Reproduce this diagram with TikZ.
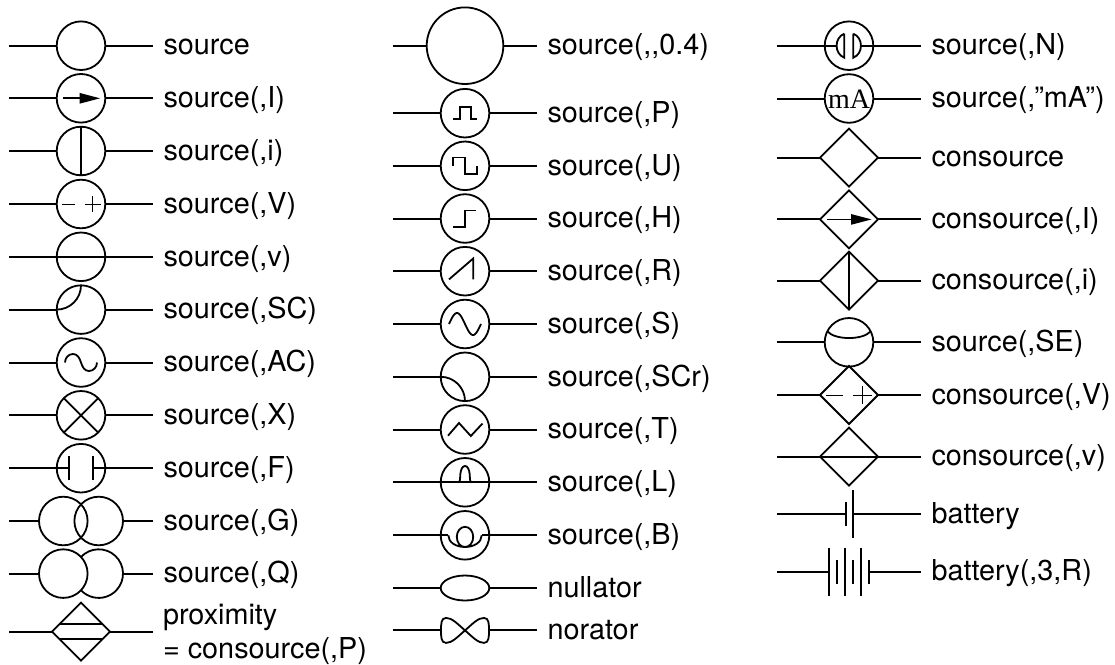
\documentclass[tikz,border=0pt]{standalone}
\usepackage{fontspec}
\setmainfont{TeX Gyre Heros}
\newfontfamily\meterfont{Liberation Serif}
\usetikzlibrary{calc,shapes.geometric}
\tikzset{
  wire/.style={line width=2pt,line join=miter},
  srcc/.style={circle,draw,line width=1.8pt,minimum size=48.6pt,inner sep=0pt,outer sep=0pt},
  bigc/.style={srcc,minimum size=76.6pt},
  dsrc/.style={diamond,draw,line width=1.8pt,minimum size=58pt,inner sep=0pt,outer sep=0pt,aspect=1},
  nullc/.style={ellipse,draw,line width=1.8pt,minimum width=48.6pt,minimum height=25pt,inner sep=0pt,outer sep=0pt},
  lbl/.style={anchor=base west,inner sep=0pt,outer sep=0pt,font=\fontsize{28.8}{30}\selectfont},
  thin mark/.style={line width=0.9pt},
  head/.style={fill=black,draw=none},
}
% name, centre x, y, label
\newcommand{\symrow}[4]{%
  \coordinate (#1l) at ($(#2,#3)+(-72,0)$);
  \coordinate (#1r) at ($(#2,#3)+(72,0)$);
  \node[lbl] (#1t) at ($(#2,#3)+(82.5,9.2)$) {#4};
}
\newcommand{\wires}[1]{\draw[wire] (#1l) -- (#1.west) (#1.east) -- (#1r);}
\newcommand{\csrc}[4]{\symrow{#1}{#2}{#3}{#4}\node[srcc] (#1) at (#2,#3) {};\wires{#1}}
\newcommand{\dmd}[4]{\symrow{#1}{#2}{#3}{#4}\node[dsrc] (#1) at (#2,#3) {};\wires{#1}}
\newcommand{\inside}[2]{\begin{scope}[shift={(#1)}]\draw[wire,line width=1.8pt] #2;\end{scope}}
\newcommand{\insidefill}[2]{\begin{scope}[shift={(#1)}]\fill[head] #2;\end{scope}}
\newcommand{\insidethin}[2]{\begin{scope}[shift={(#1)}]\draw[thin mark] #2;\end{scope}}
\begin{document}
\begin{tikzpicture}[x=1pt,y=-1pt]
\useasboundingbox (0,0) rectangle (1115,664);
\def\xa{81}\def\xb{465}\def\xc{849}
% ---------- column 1
\csrc{a1}{\xa}{45.7}{source}
\csrc{a2}{\xa}{98.3}{source(,I)}
\inside{a2}{(-18,0) -- (0,0)}
\insidefill{a2}{(-1.5,-5.4) -- (19,0) -- (-1.5,5.4) -- cycle}
\csrc{a3}{\xa}{151}{source(,i)}
\inside{a3}{(a3.north) -- (a3.south)}
\csrc{a4}{\xa}{204}{source(,V)}
\insidethin{a4}{(-19,0) -- (-6,0) (3.5,0) -- (19.5,0) (11.5,-8) -- (11.5,8)}
\csrc{a5}{\xa}{256.8}{source(,v)}
\inside{a5}{(a5.west) -- (a5.east)}
\csrc{a6}{\xa}{309.6}{source(,SC)}
\inside{a6}{(0,-24.3) .. controls (0,-10.9) and (-10.9,0) .. (-24.3,0)}
\csrc{a7}{\xa}{362.5}{source(,AC)}
\inside{a7}{(-16,0) .. controls (-16,-4.7) and (-12.4,-8.5) .. (-8,-8.5) .. controls (-3.6,-8.5) and (-1.5,-4.7) .. (0,0) .. controls (1.5,4.7) and (3.6,8.5) .. (8,8.5) .. controls (12.4,8.5) and (16,4.7) .. (16,0)}
\csrc{a8}{\xa}{415.3}{source(,X)}
\inside{a8}{(a8.north west) -- (a8.south east) (a8.north east) -- (a8.south west)}
% F: the wires run through the circle to the plates
\symrow{a9}{\xa}{468.2}{source(,F)}
\node[srcc] (a9) at (\xa,468.2) {};
\draw[wire] (a9l) -- +(60,0) (a9r) -- +(-60,0);
\inside{a9}{(-12,-12) -- (-12,12) (12,-12) -- (12,12)}
% G
\symrow{a10}{\xa}{521}{source(,G)}
\node[srcc] (a10a) at (63.3,521) {};
\node[srcc] (a10b) at (98.7,521) {};
\draw[wire] (a10l) -- (a10a.west) (a10b.east) -- (a10r);
% Q
\symrow{a11}{\xa}{573.6}{source(,Q)}
\node[srcc] (a11a) at (63.3,573.6) {};
\coordinate (a11b) at (98.7,573.6);
\coordinate (a11be) at (123,573.6);
\inside{a11b}{(-136.9:24.3) arc[start angle=-136.9,end angle=136.9,radius=24.3]}
\draw[wire] (a11l) -- (a11a.west) (a11be) -- (a11r);
% proximity
\dmd{a12}{\xa}{631.7}{}
\inside{a12}{(-20.8,-7.6) -- (20.8,-7.6) (-20.8,7.6) -- (20.8,7.6)}
\node[lbl] (a12p) at (163,624.5) {proximity};
\node[lbl] (a12q) at (163,658.5) {= consource(,P)};
% ---------- column 2
\symrow{b1}{\xb}{45.7}{source(,{},0.4)}
\node[bigc] (b1) at (\xb,45.7) {};
\wires{b1}
\csrc{b2}{\xb}{113.2}{source(,P)}
\inside{b2}{(-12,6) -- (-5,6) -- (-5,-6) -- (6,-6) -- (6,6) -- (12,6)}
\csrc{b3}{\xb}{165.8}{source(,U)}
\inside{b3}{(-12.3,0) -- (-12.3,-8.3) -- (0,-8.3) -- (0,8.3) -- (12.3,8.3) -- (12.3,0)}
\csrc{b4}{\xb}{218.5}{source(,H)}
\inside{b4}{(-12,8.2) -- (0,8.2) -- (0,-8) -- (11,-8)}
\csrc{b5}{\xb}{271.2}{source(,R)}
\inside{b5}{(-16,8.2) -- (8.2,-12.7) -- (8.2,8.2)}
\csrc{b6}{\xb}{324}{source(,S)}
\inside{b6}{plot[domain=-1:1,samples=41,smooth] (\x*16,{11*sin(\x*180)})}
\csrc{b7}{\xb}{376.8}{source(,SCr)}
\inside{b7}{(-24.3,0) .. controls (-10.9,0) and (0,10.9) .. (0,24.3)}
\csrc{b8}{\xb}{429.5}{source(,T)}
\inside{b8}{(-17,6.2) -- (-6,-6.5) -- (5.8,6.5) -- (17.5,-6)}
\symrow{b9}{\xb}{482.3}{source(,L)}
\node[srcc] (b9) at (\xb,482.3) {};
\draw[wire] (b9l) -- (b9r);
\inside{b9}{(-6.7,0) .. controls (-4.7,0) and (-5,-4) .. (-4.7,-8) .. controls (-4.2,-13) and (-2.5,-16.3) .. (0,-16.3) .. controls (2.5,-16.3) and (4.2,-13) .. (4.7,-8) .. controls (5,-4) and (4.7,0) .. (6.7,0)}
\symrow{b10}{\xb}{535.3}{source(,B)}
\node[srcc] (b10) at (\xb,535.3) {};
\draw[wire] (b10l) -- +(55.3,0) (b10r) -- +(-55.3,0);
\inside{b10}{(-16.7,0) .. controls (-16.7,7) and (-9,11.7) .. (0,11.7) .. controls (5,11.7) and (8.2,7) .. (8.2,1.5) .. controls (8.2,-4) and (4.5,-8.5) .. (0,-8.5) .. controls (-4.5,-8.5) and (-8.2,-4) .. (-8.2,1.5) .. controls (-8.2,7) and (-5,11.7) .. (0,11.7) .. controls (9,11.7) and (16.7,7) .. (16.7,0)}
\symrow{b11}{\xb}{588}{nullator}
\node[nullc] (b11) at (\xb,588) {};
\wires{b11}
\symrow{b12}{\xb}{630.4}{norator}
\coordinate (b12) at (\xb,630.4);
\draw[wire] (b12l) -- +(48,0) (b12r) -- +(-48,0);
\inside{b12}{(0,0) .. controls (-8,-7) and (-13,-12.5) .. (-19,-12.5) .. controls (-24,-12.5) and (-24,-6) .. (-24,0) .. controls (-24,6) and (-24,12.5) .. (-19,12.5) .. controls (-13,12.5) and (-8,7) .. (0,0) .. controls (8,-7) and (13,-12.5) .. (19,-12.5) .. controls (24,-12.5) and (24,-6) .. (24,0) .. controls (24,6) and (24,12.5) .. (19,12.5) .. controls (13,12.5) and (8,7) .. (0,0)}
% ---------- column 3
\symrow{c1}{\xc}{45.7}{source(,N)}
\node[srcc] (c1) at (\xc,45.7) {};
\draw[wire] (c1l) -- +(60,0) (c1r) -- +(-60,0);
\inside{c1}{(-4.7,-12) -- (-4.7,12) .. controls (-15,8) and (-15,-8) .. (-4.7,-12) (4.3,-12) -- (4.3,12) .. controls (14.5,8) and (14.5,-8) .. (4.3,-12)}
\csrc{c2}{\xc}{98.5}{source(,”mA”)}
\node[inner sep=0pt,font=\meterfont\fontsize{28}{28}\selectfont] (c2m) at (\xc,99) {mA};
\dmd{c3}{\xc}{157.7}{consource}
\dmd{c4}{\xc}{219.4}{consource(,I)}
\inside{c4}{(-21.7,0) -- (2,0)}
\insidefill{c4}{(2,-5.4) -- (22.5,0) -- (2,5.4) -- cycle}
\dmd{c5}{\xc}{280.7}{consource(,i)}
\inside{c5}{(c5.north) -- (c5.south)}
\csrc{c6}{\xc}{342.3}{source(,SE)}
\inside{c6}{(-21.7,-11) .. controls (-14,-2) and (14,-2) .. (21.7,-11)}
\dmd{c7}{\xc}{395}{consource(,V)}
\insidethin{c7}{(-23,0) -- (-5.7,0) (4.3,0) -- (22.7,0) (13.5,-9) -- (13.5,9)}
\dmd{c8}{\xc}{456.7}{consource(,v)}
\inside{c8}{(c8.west) -- (c8.east)}
\symrow{c9}{\xc}{514}{battery}
\draw[wire] (c9l) -- +(68.7,0) (c9r) -- +(-67.7,0);
\coordinate (c9) at (\xc,514);
\inside{c9}{(-3.3,-12) -- (-3.3,12) (4.3,-24) -- (4.3,24)}
\symrow{c10}{\xc}{571.7}{battery(,3,R)}
\coordinate (c10) at (\xc,571.7);
\draw[wire] (c10l) -- +(52,0) (c10r) -- +(-52,0);
\inside{c10}{(-20,-24) -- (-20,24) (-12,-12) -- (-12,12) (-4,-24) -- (-4,24) (4,-12) -- (4,12) (12,-24) -- (12,24) (20,-12) -- (20,12)}
\end{tikzpicture}
\end{document}
